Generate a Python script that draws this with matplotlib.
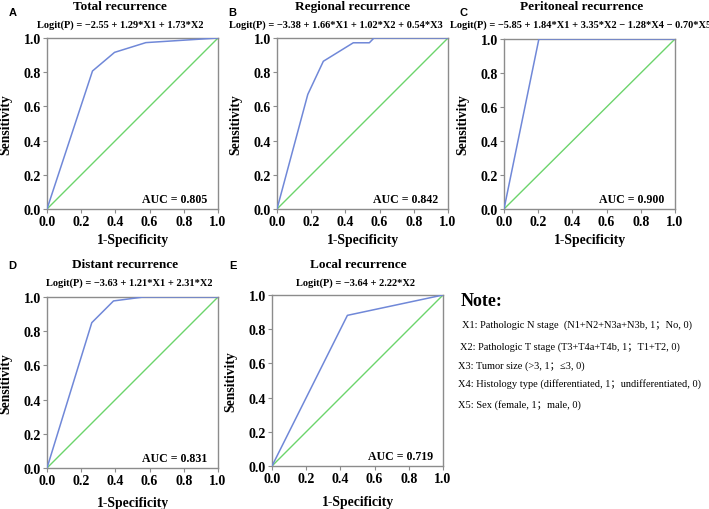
import matplotlib
matplotlib.use("Agg")
import matplotlib.pyplot as plt

# ---- data ----
titles = ["Total recurrence", "Regional recurrence", "Peritoneal recurrence",
          "Distant recurrence", "Local recurrence"]
formulas = ["Logit(P) = \u22122.55 + 1.29*X1 + 1.73*X2",
            "Logit(P) = \u22123.38 + 1.66*X1 + 1.02*X2 + 0.54*X3",
            "Logit(P) = \u22125.85 + 1.84*X1 + 3.35*X2 \u2212 1.28*X4 \u2212 0.70*X5",
            "Logit(P) = \u22123.63 + 1.21*X1 + 2.31*X2",
            "Logit(P) = \u22123.64 + 2.22*X2"]
letters = ["A", "B", "C", "D", "E"]
auc_labels = ["AUC = 0.805", "AUC = 0.842", "AUC = 0.900", "AUC = 0.831", "AUC = 0.719"]

fpr_A = [0.0, 0.266, 0.395, 0.578, 1.0]
tpr_A = [0.0, 0.807, 0.916, 0.973, 1.0]
fpr_B = [0.0, 0.18, 0.271, 0.446, 0.54, 0.567, 1.0]
tpr_B = [0.0, 0.67, 0.864, 0.972, 0.972, 1.0, 1.0]
fpr_C = [0.0, 0.204, 1.0]
tpr_C = [0.0, 1.0, 1.0]
fpr_D = [0.0, 0.262, 0.389, 0.564, 1.0]
tpr_D = [0.0, 0.85, 0.977, 1.0, 1.0]
fpr_E = [0.0, 0.441, 1.0]
tpr_E = [0.0, 0.881, 1.0]
fprs = [fpr_A, fpr_B, fpr_C, fpr_D, fpr_E]
tprs = [tpr_A, tpr_B, tpr_C, tpr_D, tpr_E]

ticks = [0.0, 0.2, 0.4, 0.6, 0.8, 1.0]
tick_labels = ["0.0", "0.2", "0.4", "0.6", "0.8", "1.0"]

note_title = "Note:"
note_lines = ["X1: Pathologic N stage  (N1+N2+N3a+N3b, 1\uff1bNo, 0)",
              "X2: Pathologic T stage (T3+T4a+T4b, 1\uff1bT1+T2, 0)",
              "X3: Tumor size (>3, 1\uff1b\u22643, 0)",
              "X4: Histology type (differentiated, 1\uff1bundifferentiated, 0)",
              "X5: Sex (female, 1\uff1bmale, 0)"]

# ---- layout (pixels) ----
W, H = 709, 510
SERIF = ["Liberation Serif", "Noto Sans CJK SC", "DejaVu Serif"]
SANS = ["Liberation Sans", "DejaVu Sans"]

# (left, top, right, bottom) in pixels
boxes = [(47, 39, 218, 210), (277, 39, 448, 210), (504, 40, 675, 210),
         (47, 298, 218, 469), (272, 296, 443, 467)]
title_cx = [120, 353, 582, 125, 358]
formula_cx = [120, 336, 581, 129, 356]
title_base = [10, 10, 10, 268, 268]
formula_base = [28, 28, 28, 286, 286]
letter_xy = [(13, 13), (232, 13), (463, 13), (12, 266), (233, 266)]
ylab_x = [-0.20, -0.205, -0.20, -0.20, -0.20]
xlab_y = [-0.14, -0.14, -0.14, -0.163, -0.17]

fig = plt.figure(figsize=(W / 100, H / 100), dpi=100)
frame_col = "#8c8c8c"
blue = "#7088d8"
green = "#6cd46c"

for i in range(5):
    l, t, r, b = boxes[i]
    ax = fig.add_axes([l / W, 1 - b / H, (r - l) / W, (b - t) / H])
    ax.plot([0, 1], [0, 1], color=green, lw=1.0, zorder=2)
    ax.plot(fprs[i], tprs[i], color=blue, lw=1.1, zorder=3)
    ax.set_xlim(0, 1)
    ax.set_ylim(0, 1)
    ax.set_xticks(ticks)
    ax.set_yticks(ticks)
    ax.set_xticklabels(tick_labels, fontfamily=SERIF, fontweight="bold", fontsize=10)
    ax.set_yticklabels(tick_labels, fontfamily=SERIF, fontweight="bold", fontsize=10)
    ax.tick_params(direction="out", length=3, width=0.8, color=frame_col, pad=1.5)
    for s in ax.spines.values():
        s.set_color(frame_col)
        s.set_linewidth(1.0)
    ax.set_xlabel("1-Specificity", fontfamily=SERIF, fontweight="bold", fontsize=9.8)
    ax.set_ylabel("Sensitivity", fontfamily=SERIF, fontweight="bold", fontsize=9.8)
    ax.yaxis.set_label_coords(ylab_x[i], 0.5)
    ax.xaxis.set_label_coords(0.5, xlab_y[i])
    ax.text(0.94, 0.058, auc_labels[i], transform=ax.transAxes, ha="right", va="center",
            fontfamily=SERIF, fontweight="bold", fontsize=8.6)
    fig.text(title_cx[i] / W, 1 - title_base[i] / H, titles[i], ha="center", va="baseline",
             fontfamily=SERIF, fontweight="bold", fontsize=9.5)
    fig.text(formula_cx[i] / W, 1 - formula_base[i] / H, formulas[i], ha="center",
             va="baseline", fontfamily=SERIF, fontweight="bold", fontsize=7.5)
    lx, ly = letter_xy[i]
    fig.text(lx / W, 1 - ly / H, letters[i], ha="center", va="center",
             fontfamily=SANS, fontweight="bold", fontsize=8)

fig.text(461 / W, 1 - 302 / H, note_title, ha="left", va="center",
         fontfamily=SERIF, fontweight="bold", fontsize=13)
note_y = [325, 347, 366, 384, 405]
note_x = [462, 460, 458, 458, 458]
for s, yy, xx in zip(note_lines, note_y, note_x):
    fig.text(xx / W, 1 - yy / H, s, ha="left", va="center",
             fontfamily=SERIF, fontsize=7.5)

fig.savefig("out.png", dpi=100)
